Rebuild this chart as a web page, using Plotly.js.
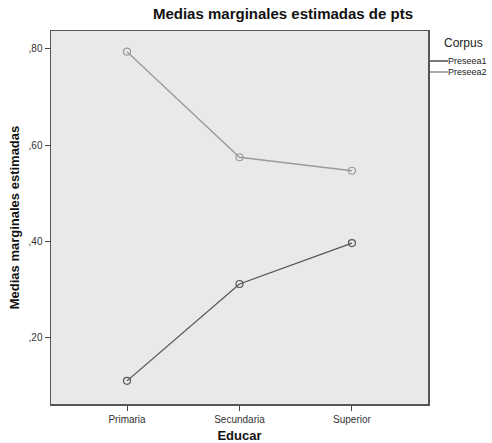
<!DOCTYPE html>
<html><head><meta charset="utf-8">
<script src="https://cdn.plot.ly/plotly-3.0.1.min.js"></script>
<style>body{margin:0;background:#fff}#chart{width:492px;height:443px}</style>
</head><body><div id="chart"></div>
<script>
const categories = ["Primaria", "Secundaria", "Superior"];
const seriesNames = ["Preseea1", "Preseea2"];
const preseea1 = [0.111, 0.312, 0.397];
const preseea2 = [0.794, 0.575, 0.547];
const tickVals = [0.2, 0.4, 0.6, 0.8];
const tickText = [",20", ",40", ",60", ",80"];
const colors = ["#555555", "#9a9a9a"];
const xIdx = categories.map((_, i) => i);
const seriesData = [preseea1, preseea2];
const traces = seriesData.map((ys, i) => ({
  x: xIdx, y: ys, name: seriesNames[i], mode: "lines+markers",
  line: {color: colors[i], width: 1.3},
  marker: {symbol: "circle-open", size: 7, color: colors[i], line: {width: 1.2}},
  showlegend: false, hoverinfo: "y"
}));
// legend drawn as annotations + short line stubs (SPSS style)
const L = 51, R = 428, T = 31, B = 404;
const px = v => (v - L) / (R - L), py = v => (B - v) / (B - T);
const legendY = [61, 72];
const annotations = [{xref: "paper", yref: "paper", x: px(442), y: py(43), xanchor: "left", yanchor: "middle",
  text: "Corpus", showarrow: false, font: {size: 12, color: "#222"}}];
const shapes = [];
seriesNames.forEach((n, i) => {
  annotations.push({xref: "paper", yref: "paper", x: px(447), y: py(legendY[i]), xanchor: "left", yanchor: "middle",
    text: n, showarrow: false, borderpad: 0, font: {size: 9, color: "#222"}});
  shapes.push({type: "line", xref: "paper", yref: "paper", x0: px(430), x1: px(448), y0: py(legendY[i]), y1: py(legendY[i]),
    line: {color: colors[i], width: 1.6}});
});
const layout = {
  width: 492, height: 443,
  margin: {l: L, r: 492 - R, t: T, b: 443 - B},
  paper_bgcolor: "#ffffff", plot_bgcolor: "#e9e9e9",
  font: {family: "Liberation Sans, Arial, sans-serif", color: "#222"},
  title: {text: "<b>Medias marginales estimadas de pts</b>", x: 283 / 492, xanchor: "center", y: 0.98, yanchor: "top",
          font: {size: 15, color: "#111"}},
  xaxis: {range: [-0.676, 2.676], tickvals: xIdx, ticktext: categories, ticks: "outside", ticklen: 5,
          tickcolor: "#444", showgrid: false, zeroline: false, showline: true, linecolor: "#555", linewidth: 1.5,
          mirror: true, tickfont: {size: 10, color: "#333"},
          title: {text: "<b>Educar</b>", font: {size: 13, color: "#111"}, standoff: 10}},
  yaxis: {range: [0.063, 0.837], tickvals: tickVals, ticktext: tickText, ticks: "outside", ticklen: 5,
          tickcolor: "#444", showgrid: false, zeroline: false, showline: true, linecolor: "#555", linewidth: 1.5,
          mirror: true, tickfont: {size: 10, color: "#333"},
          title: {text: "<b>Medias marginales estimadas</b>", font: {size: 13, color: "#111"}, standoff: 6}},
  annotations: annotations, shapes: shapes
};
Plotly.newPlot("chart", traces, layout, {displayModeBar: false, staticPlot: true});
</script></body></html>
